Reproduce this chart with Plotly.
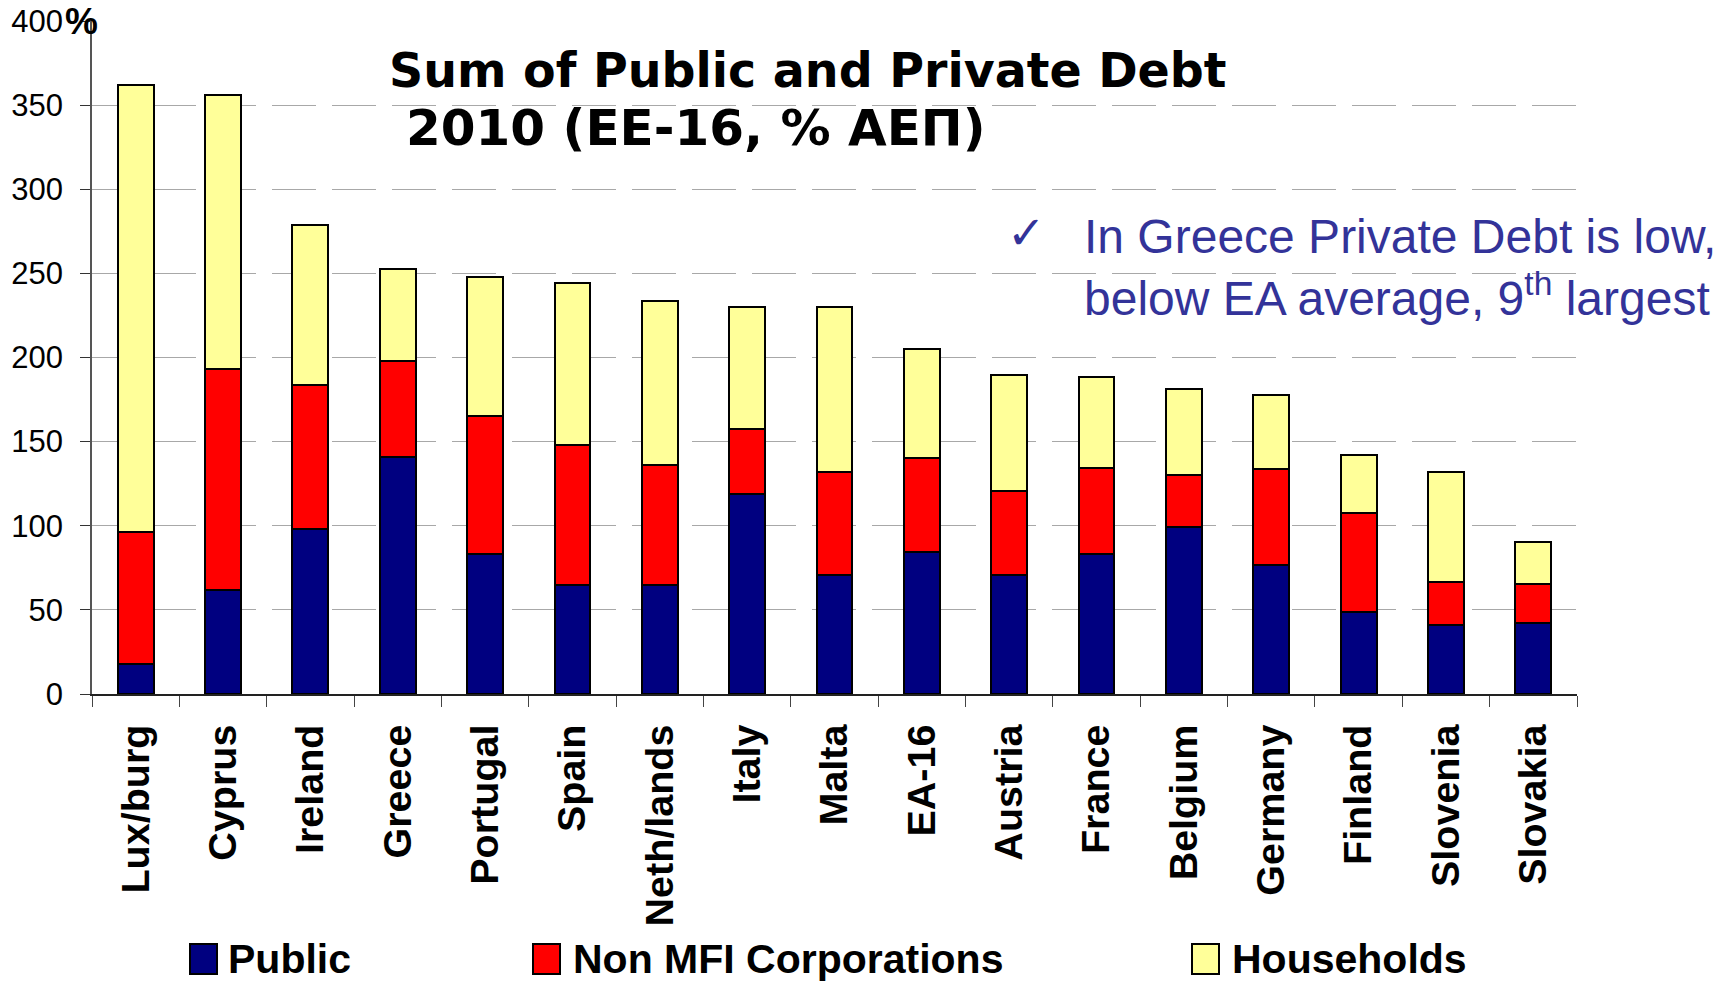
import plotly.graph_objects as go

countries = ["Lux/burg", "Cyprus", "Ireland", "Greece", "Portugal", "Spain", "Neth/lands",
             "Italy", "Malta", "EA-16", "Austria", "France", "Belgium", "Germany",
             "Finland", "Slovenia", "Slovakia"]
# cumulative tops (% of GDP)
public = [18, 62, 98, 141, 83, 64.5, 64.5, 119, 70.5, 84.5, 70.5, 83.5, 99, 76.5, 49, 41, 42]
public_plus_corp = [96.5, 193, 183.5, 198, 165.5, 148, 136, 157.5, 132, 140.5, 120.5, 134.5, 130, 133.5, 107.5, 66.5, 65.5]
total = [362, 356, 278.5, 252.5, 248, 244, 233.5, 230, 230, 205, 189.5, 188.5, 181, 177.5, 142, 132, 90.5]

corporations = [round(b - a, 1) for a, b in zip(public, public_plus_corp)]
households = [round(c - b, 1) for b, c in zip(public_plus_corp, total)]

series_names = ["Public", "Non MFI Corporations", "Households"]
series_colors = ["#000080", "#FF0000", "#FFFF99"]
series_values = [public, corporations, households]

y_ticks = [0, 50, 100, 150, 200, 250, 300, 350, 400]

W, H = 1731, 983
L, R, T, B = 92, 154, 21, 289
PW, PH = W - L - R, H - T - B


def px(x):
    return (x - L) / PW


def py(y):
    return (H - B - y) / PH


fig = go.Figure()
for name, color, vals in zip(series_names, series_colors, series_values):
    fig.add_trace(go.Bar(
        x=countries, y=vals, name=name, width=0.41,
        marker=dict(color=color, line=dict(color="#000000", width=2)),
        showlegend=False,
    ))

shapes = []
annotations = []

# manual legend
legend_pos = [(190, 226), (533, 571), (1192, 1230)]
for (sx, tx), name, color in zip(legend_pos, series_names, series_colors):
    shapes.append(dict(type="rect", xref="paper", yref="paper",
                       x0=px(sx), x1=px(sx + 27), y0=py(974), y1=py(944),
                       fillcolor=color, line=dict(color="#000000", width=2)))
    annotations.append(dict(text=name, xref="paper", yref="paper", x=px(tx), y=py(959),
                            xanchor="left", yanchor="middle", showarrow=False,
                            font=dict(family="Liberation Sans", size=41, color="#000000", weight="bold")))

# title
annotations.append(dict(text="Sum of Public and Private Debt", xref="paper", yref="paper",
                        x=px(387), y=py(71), xanchor="left", yanchor="middle", showarrow=False,
                        font=dict(family="DejaVu Sans", size=47.5, color="#000000", weight="bold")))
annotations.append(dict(text="2010 (ΕΕ-16, % ΑΕΠ)", xref="paper", yref="paper",
                        x=px(404), y=py(128), xanchor="left", yanchor="middle", showarrow=False,
                        font=dict(family="DejaVu Sans", size=50, color="#000000", weight="bold")))

# note
note_color = "#333399"
annotations.append(dict(text="✓", xref="paper", yref="paper",
                        x=px(1026), y=py(233), xanchor="center", yanchor="middle", showarrow=False,
                        font=dict(family="DejaVu Sans", size=46, color=note_color)))
annotations.append(dict(text="In Greece Private Debt is low,", xref="paper", yref="paper",
                        x=px(1082), y=py(237), xanchor="left", yanchor="middle", showarrow=False,
                        font=dict(family="Liberation Sans", size=48, color=note_color)))
annotations.append(dict(text="below EA average, 9<sup>th</sup> largest", xref="paper", yref="paper",
                        x=px(1082), y=py(295), xanchor="left", yanchor="middle", showarrow=False,
                        font=dict(family="Liberation Sans", size=48, color=note_color)))

# percent sign on axis top
annotations.append(dict(text="%", xref="paper", yref="paper",
                        x=px(81), y=py(22), xanchor="center", yanchor="middle", showarrow=False,
                        font=dict(family="Liberation Sans", size=37, color="#000000", weight="bold")))

fig.update_layout(
    width=W, height=H, autosize=False,
    margin=dict(l=L, r=R, t=T, b=B, pad=0, autoexpand=False),
    barmode="stack",
    plot_bgcolor="#FFFFFF", paper_bgcolor="#FFFFFF",
    shapes=shapes, annotations=annotations,
    showlegend=False,
)
fig.update_xaxes(
    type="category", automargin=False, showline=True, linecolor="#222222", linewidth=1.5,
    ticks="outside", tickson="boundaries", ticklen=11, tickcolor="#444444", tickwidth=1.2,
    tickangle=-90, ticklabelstandoff=13,
    tickfont=dict(family="Liberation Sans", size=39.5, color="#000000", weight="bold"),
    showgrid=False,
)
fig.update_yaxes(
    range=[0, 400], automargin=False, tickvals=y_ticks, ticktext=[str(v) for v in y_ticks],
    showline=True, linecolor="#555555", linewidth=1.5,
    ticks="outside", ticklen=10, tickcolor="#333333", tickwidth=1.2, ticklabelstandoff=11,
    tickfont=dict(family="Liberation Sans", size=31, color="#000000"),
    showgrid=True, gridcolor="#A8A8A8", gridwidth=1.2, griddash="44px,16px",
    zeroline=False,
)

fig.write_html("out.html")
